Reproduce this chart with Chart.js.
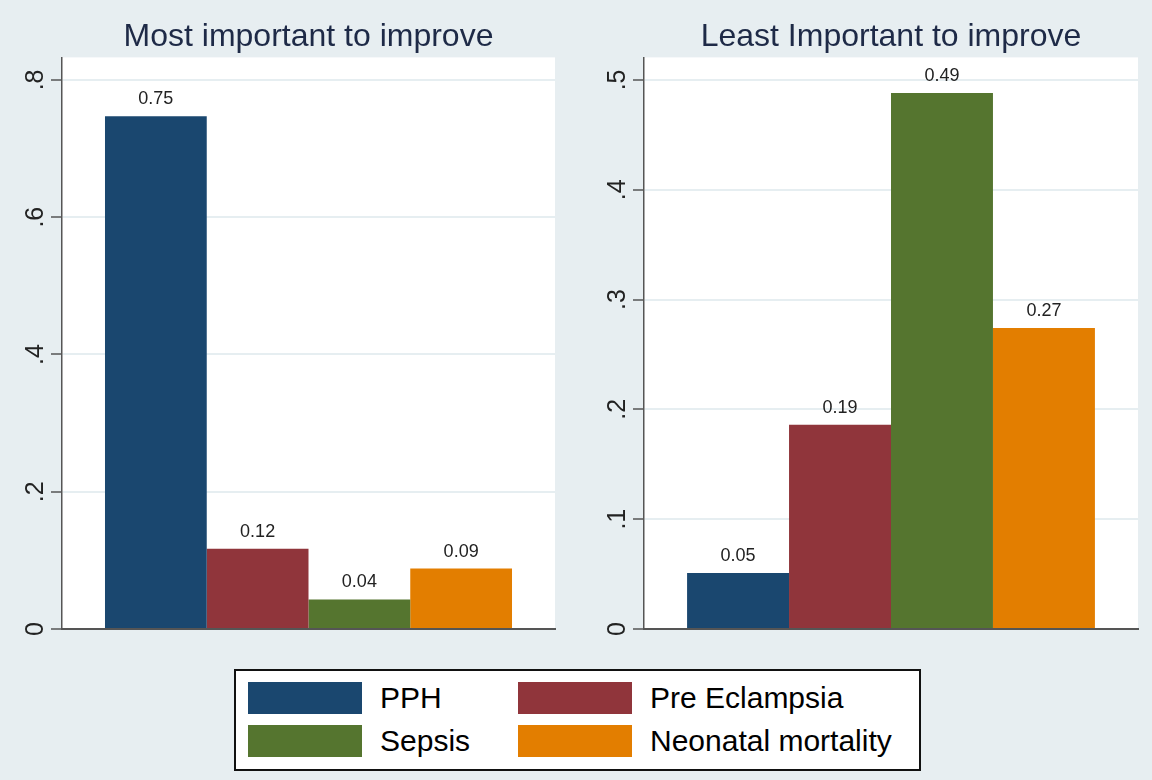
<!DOCTYPE html>
<html>
<head>
<meta charset="utf-8">
<script src="https://cdn.jsdelivr.net/npm/chart.js@4/dist/chart.umd.min.js"></script>
<style>
    body { margin: 0; background: #E7EEF1; font-family: "Liberation Sans", Arial, Helvetica, sans-serif; }
    #page { position: relative; width: 1152px; height: 780px; overflow: hidden; }
    .panel { position: absolute; top: 0; height: 648px; }
    #legend {
        position: absolute; left: 234px; top: 669px; width: 687px; height: 102px;
        box-sizing: border-box; border: 2px solid #111; background: #fff;
        padding: 11px 0 0 12px;
        display: grid; grid-template-columns: 270px 390px; grid-auto-rows: 32px;
        row-gap: 11px; align-content: start;
    }
    .item { display: flex; align-items: center; height: 32px; }
    .swatch { width: 114px; height: 32px; flex-shrink: 0; }
    .item span { margin-left: 18px; font-size: 30px; color: #000; white-space: nowrap; }
</style>
</head>
<body>
<div id="page">
    <div class="panel" style="left:0; width:580px;"><canvas id="chart-most"></canvas></div>
    <div class="panel" style="left:582px; width:570px;"><canvas id="chart-least"></canvas></div>
    <div id="legend"></div>
</div>
<script>
// series names and colours (Stata s2color)
let causes = ['PPH', 'Pre Eclampsia', 'Sepsis', 'Neonatal mortality'];
let colors = ['#1A476F', '#90353B', '#55752F', '#E37E00'];

// share of respondents per cause
let mostImportant = [0.747, 0.117, 0.043, 0.088];
let leastImportant = [0.051, 0.186, 0.488, 0.274];

// y axis ticks
let mostTicks = [0, 0.2, 0.4, 0.6, 0.8];
let leastTicks = [0, 0.1, 0.2, 0.3, 0.4, 0.5];

let axisColor = '#555';
let gridColor = '#E6EEF1';
let fontFamily = '"Liberation Sans", Arial, Helvetica, sans-serif';

// white plot region behind the bars
let plotBackground = {
    id: 'plotBackground',
    beforeDraw(chart) {
        let a = chart.chartArea;
        let ctx = chart.ctx;
        ctx.save();
        ctx.fillStyle = '#fff';
        ctx.fillRect(a.left, a.top, a.right - a.left, a.bottom - a.top);
        ctx.restore();
    }
};

// value printed over each bar
let barLabels = {
    id: 'barLabels',
    afterDatasetsDraw(chart) {
        let ctx = chart.ctx;
        ctx.save();
        ctx.font = '18px ' + fontFamily;
        ctx.fillStyle = '#222';
        ctx.textAlign = 'center';
        ctx.textBaseline = 'alphabetic';
        chart.data.datasets.forEach((ds, i) => {
            chart.getDatasetMeta(i).data.forEach((bar, j) => {
                ctx.fillText(ds.data[j].toFixed(2), bar.x, bar.y - 12);
            });
        });
        ctx.restore();
    }
};

function tickLabel(value) {
    if (value === 0) return '0';
    return value.toFixed(1).replace(/^0/, '');
}

function panel(id, title, values, ticks, yMax) {
    let ctx = document.getElementById(id).getContext('2d');
    return new Chart(ctx, {
        type: 'bar',
        data: {
            labels: [''],
            datasets: causes.map((name, i) => ({
                label: name,
                data: [values[i]],
                backgroundColor: colors[i],
                borderWidth: 0,
                categoryPercentage: 0.8256,
                barPercentage: 1
            }))
        },
        options: {
            responsive: true,
            maintainAspectRatio: false,
            animation: false,
            layout: {
                padding: { left: 0, right: id === 'chart-most' ? 25 : 14, top: 0, bottom: 12 }
            },
            plugins: {
                legend: { display: false },
                tooltip: { enabled: false },
                title: {
                    display: true,
                    fullSize: false,
                    text: title,
                    color: '#1E2A47',
                    font: { size: 32, weight: 'normal', family: fontFamily },
                    padding: { top: 18, bottom: 1 }
                }
            },
            scales: {
                x: {
                    grid: { display: false },
                    ticks: { display: false },
                    border: { display: true, color: axisColor, width: 2 },
                    afterFit: (scale) => { scale.height = 0; }
                },
                y: {
                    min: 0,
                    max: yMax,
                    afterBuildTicks: (scale) => {
                        scale.ticks = ticks.map(v => ({ value: v }));
                    },
                    grid: {
                        color: (c) => c.tick && c.tick.value === 0 ? axisColor : gridColor,
                        lineWidth: 2,
                        tickColor: axisColor,
                        tickLength: 11,
                        tickWidth: 1.5
                    },
                    border: { display: true, color: axisColor, width: 1.5 },
                    ticks: {
                        minRotation: 90,
                        maxRotation: 90,
                        crossAlign: 'center',
                        padding: 4,
                        color: '#222',
                        font: { size: 25, family: fontFamily },
                        callback: tickLabel
                    },
                    afterFit: (scale) => { scale.width = 62; }
                }
            }
        },
        plugins: [plotBackground, barLabels]
    });
}

function legend() {
    let box = document.getElementById('legend');
    causes.forEach((name, i) => {
        let item = document.createElement('div');
        item.className = 'item';
        item.innerHTML = '<div class="swatch" style="background:' + colors[i] + '"></div><span>' + name + '</span>';
        box.appendChild(item);
    });
}

panel('chart-most', 'Most important to improve', mostImportant, mostTicks, 0.8328);
panel('chart-least', 'Least Important to improve', leastImportant, leastTicks, 0.5205);
legend();
</script>
</body>
</html>
